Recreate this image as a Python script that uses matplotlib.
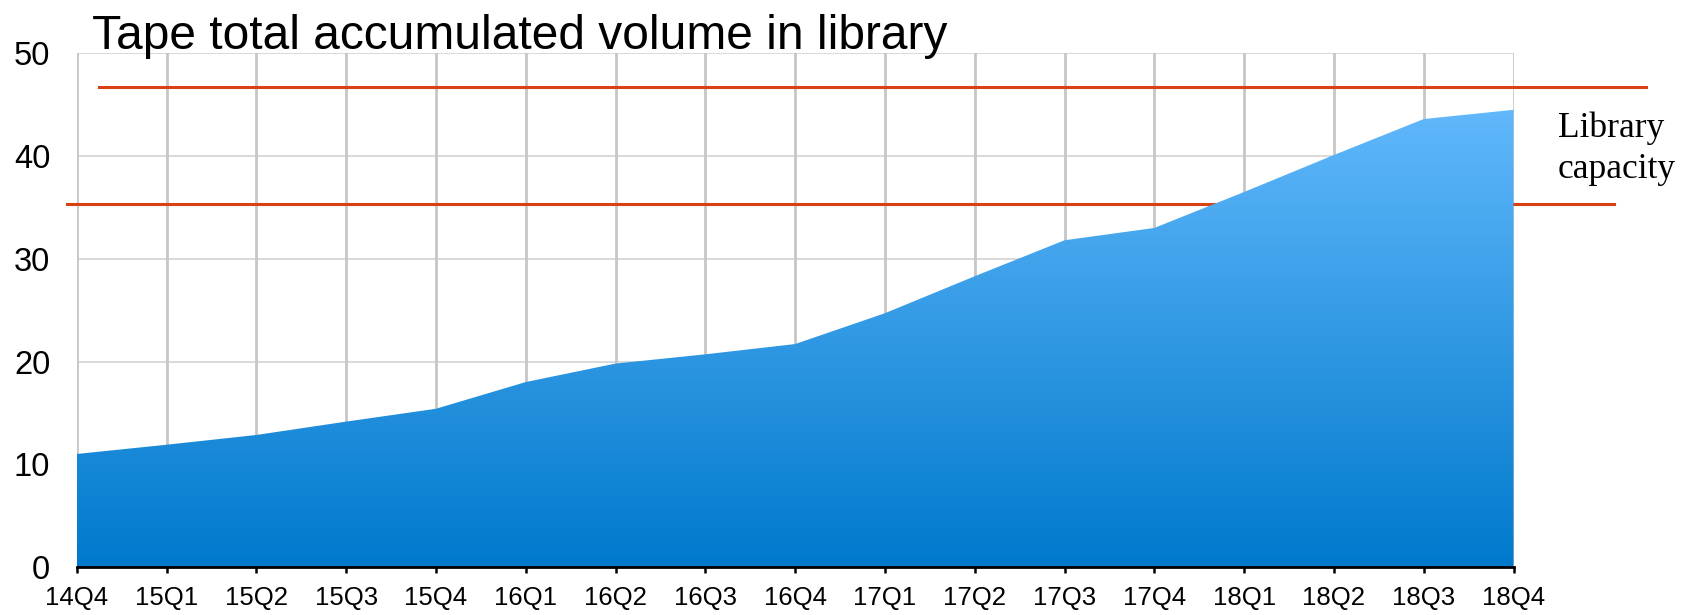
import numpy as np
import matplotlib
matplotlib.use("Agg")
import matplotlib.pyplot as plt
from matplotlib.colors import LinearSegmentedColormap

categories = ["14Q4", "15Q1", "15Q2", "15Q3", "15Q4", "16Q1", "16Q2", "16Q3", "16Q4",
              "17Q1", "17Q2", "17Q3", "17Q4", "18Q1", "18Q2", "18Q3", "18Q4"]
volume = [11.0, 11.9, 12.85, 14.15, 15.4, 18.0, 19.8, 20.7, 21.7,
          24.7, 28.3, 31.8, 33.0, 36.5, 40.1, 43.6, 44.5]
capacity_levels = [46.7, 35.3]
y_ticks = [0, 10, 20, 30, 40, 50]
title = "Tape total accumulated volume in library"
cap_label = ["Library", "capacity"]

W, H = 1695, 615
fig = plt.figure(figsize=(W / 100, H / 100), dpi=100)
ax = fig.add_axes([76.7 / W, 1 - 567 / H, (1513.5 - 76.7) / W, (567 - 53.3) / H])

x = np.arange(len(categories))
ax.set_xlim(0, len(categories) - 1)
ax.set_ylim(0, 50)

# grid
for yt in y_ticks[1:]:
    ax.axhline(yt, color="#D9D9D9", lw=1.4, zorder=0.5)
for xi in x:
    ax.axvline(xi, color="#C6C6C6", lw=2.0, zorder=0.6)

# gradient-filled area
poly = ax.fill_between(x, 0, volume, color="none", lw=0, zorder=2)
cmap = LinearSegmentedColormap.from_list("g", ["#0079CC", "#61B8FB"])
grad = np.linspace(0, 1, 256).reshape(-1, 1)
im = ax.imshow(grad, cmap=cmap, aspect="auto", origin="lower",
               extent=[0, len(categories) - 1, 0, max(volume)], zorder=2,
               interpolation="bicubic")
path = poly.get_paths()[0]
im.set_clip_path(path, transform=ax.transData)

# capacity lines (extend beyond axes)
ax.plot([0.245, 17.48], [capacity_levels[0]] * 2, color="#D94012", lw=2.2,
        clip_on=False, zorder=1)
ax.plot([-0.11, 17.12], [capacity_levels[1]] * 2, color="#D94012", lw=2.2,
        clip_on=False, zorder=1)

# spines
for s in ["top", "right", "left"]:
    ax.spines[s].set_visible(False)
ax.spines["bottom"].set_color("black")
ax.spines["bottom"].set_linewidth(2)
ax.spines["bottom"].set_zorder(5)

ax.set_xticks(x)
ax.set_xticklabels(categories, fontsize=18.5, family="Liberation Sans")
ax.tick_params(axis="x", length=4.5, width=1.8, color="black", pad=9.5, direction="out")
ax.set_yticks(y_ticks)
ax.set_yticklabels([str(v) for v in y_ticks], fontsize=23.5, family="Liberation Sans")
ax.tick_params(axis="y", length=0, pad=19)

fig.text(92 / W, 1 - 49 / H, title, fontsize=34.5, family="Liberation Sans",
         ha="left", va="baseline")
fig.text(1558 / W, 1 - 136.7 / H, cap_label[0], fontsize=25.5, family="Liberation Serif",
         ha="left", va="baseline")
fig.text(1558 / W, 1 - 178 / H, cap_label[1], fontsize=25.5, family="Liberation Serif",
         ha="left", va="baseline")

fig.savefig("out.png", dpi=100)
